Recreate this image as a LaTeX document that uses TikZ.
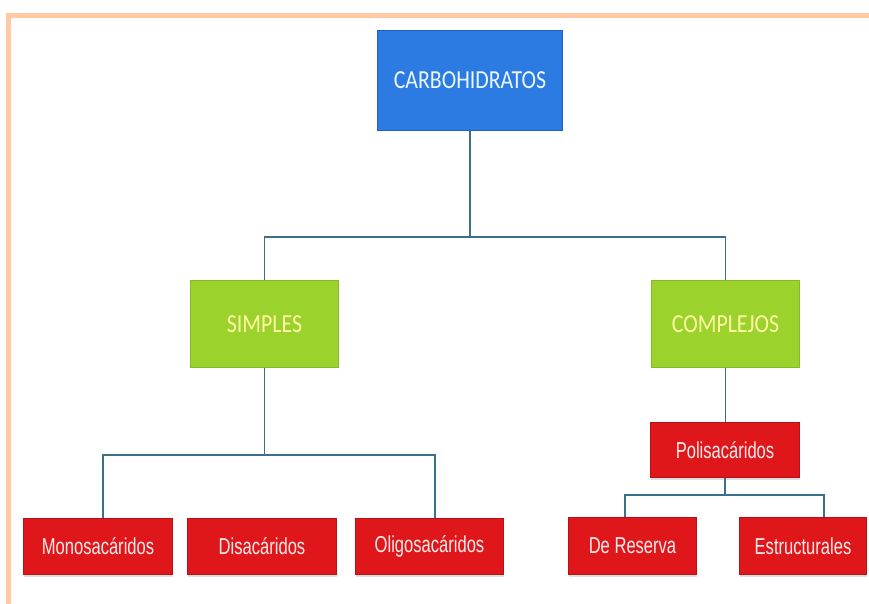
\documentclass[tikz,border=0pt]{standalone}
\usepackage{fontspec}
\setmainfont{Carlito}
\newfontfamily\narrowfont{Liberation Sans}
\usetikzlibrary{shadows}
\definecolor{framec}{HTML}{FFC9A3}
\definecolor{bluefill}{HTML}{2C7BE3}
\definecolor{blueedge}{HTML}{1F5FBF}
\definecolor{greenfill}{HTML}{9BD22C}
\definecolor{greenedge}{HTML}{86B923}
\definecolor{redfill}{HTML}{DF171B}
\definecolor{rededge}{HTML}{B81014}
\definecolor{linkc}{HTML}{3C6F8C}
\newcommand{\cond}[1]{\scalebox{0.72}[1]{#1}}
\newcommand{\capt}[1]{\scalebox{0.84}[1]{#1}}
\tikzset{
  x=1pt, y=-1pt,
  box/.style={draw, line width=1pt, inner sep=0pt, anchor=north west},
  topbox/.style={box, fill=bluefill, draw=blueedge, text=cyan!8,
    font=\fontsize{26}{30}\selectfont},
  midbox/.style={box, fill=greenfill, draw=greenedge, text=yellow!35,
    font=\fontsize{26}{30}\selectfont},
  leafbox/.style={box, fill=redfill, draw=rededge, text=red!8,
    font=\narrowfont\fontsize{23}{26}\selectfont,
    drop shadow={shadow xshift=0pt, shadow yshift=-2pt, opacity=0.25}},
  link/.style={draw=linkc, line width=1.3pt}
}
\begin{document}
\begin{tikzpicture}
\useasboundingbox (0,0) rectangle (869,603);
\fill[white] (0,0) rectangle (869,603);
% frame around the chart
\draw[framec, line width=5pt] (8,620) -- (8,15) -- (875,15);

% boxes
\node[topbox, minimum width=185pt, minimum height=100pt] (carb) at (377,30) {\capt{CARBOHIDRATOS}};
\node[midbox, minimum width=148pt, minimum height=87pt] (simp) at (190,280) {\capt{SIMPLES}};
\node[midbox, minimum width=148pt, minimum height=87pt] (comp) at (651,280) {\capt{COMPLEJOS}};
\node[leafbox, minimum width=149pt, minimum height=56pt] (mono) at (23,518) {\cond{Monosacáridos}};
\node[leafbox, minimum width=149pt, minimum height=56pt] (disa) at (187,518) {\cond{Disacáridos}};
\node[leafbox, minimum width=148pt, minimum height=56pt] (olig) at (355,518) {\cond{Oligosacáridos}};
\node[leafbox, minimum width=149pt, minimum height=55pt] (poli) at (650,422) {\cond{Polisacáridos}};
\node[leafbox, minimum width=128pt, minimum height=57pt] (rese) at (568,517) {\cond{De Reserva}};
\node[leafbox, minimum width=127pt, minimum height=57pt] (estr) at (739,517) {\cond{Estructurales}};

% connectors
\coordinate (j1) at (470,237);
\path (simp.south |- 0,455) coordinate (j2);
\path (poli.south |- 0,495) coordinate (j3);
\draw[link] (carb.south -| j1) -- (j1);
\draw[link] (simp.north) |- (j1) -| (comp.north);
\draw[link] (simp.south) -- (j2);
\draw[link] (mono.north -| 103,0) |- (j2) -| (olig.north -| 435,0);
\draw[link] (comp.south) -- (comp.south |- poli.north);
\draw[link] (poli.south) -- (j3);
\draw[link] (rese.north -| 625,0) |- (j3) -| (estr.north -| 824,0);
\end{tikzpicture}
\end{document}
